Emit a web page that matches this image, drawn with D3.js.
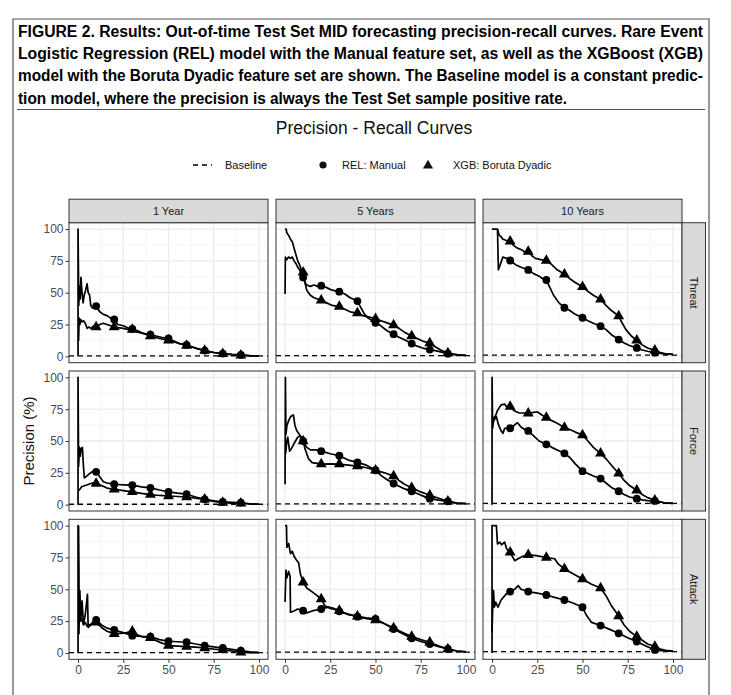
<!DOCTYPE html>
<html>
<head>
<meta charset="utf-8">
<script src="https://cdn.jsdelivr.net/npm/d3@7"></script>
<style>
  body { margin: 0; background: #fff; }
</style>
</head>
<body>
<div id="chart"></div>
<script>
// ---- data ----
const horizons = ["1 Year", "5 Years", "10 Years"];
const events = ["Threat", "Force", "Attack"];
const axisTicks = [0, 25, 50, 75, 100];
const markerRecalls = [10, 20, 30, 40, 50, 60, 70, 80, 90];
const legendLabels = ["Baseline", "REL: Manual", "XGB: Boruta Dyadic"];

// baseline precision (test set positive rate, %) per horizon
const baselineThreat = [0.3, 0.6, 1.0];
const baselineForce = [0.3, 0.6, 1.0];
const baselineAttack = [0.3, 0.6, 1.0];

const captionLines = [
  "FIGURE 2. Results: Out-of-time Test Set MID forecasting precision-recall curves. Rare Event",
  "Logistic Regression (REL) model with the Manual feature set, as well as the XGBoost (XGB)",
  "model with the Boruta Dyadic feature set are shown. The Baseline model is a constant predic-",
  "tion model, where the precision is always the Test Set sample positive rate."
];

// [recall %, precision %]
const relThreat1 = [[0,0],[0,100],[0.4,40],[0.8,55],[1.2,45],[1.6,62],[2.2,50],[2.8,42],[3.4,48],[4.2,52],[5,57],[5.6,50],[6.4,48],[7,40],[8,38],[9,39],[10,39.5],[12,35],[14,33],[16,32],[18,30],[20,29],[22,25],[25,24],[28,22],[30,21.5],[33,20],[36,18],[40,17],[43,16],[46,15],[50,14],[53,12],[56,10],[60,9],[63,7.5],[66,6],[70,4.5],[73,3.5],[76,2.8],[80,2.2],[85,1.5],[90,1.1],[95,0.5],[100,0.3]];
const xgbThreat1 = [[0.3,12],[0.6,30],[1,25],[1.5,29],[2,27],[3,28],[4,26],[5,22],[6,23],[7,22],[8,23],[9,24],[10,23],[12,25],[14,26],[16,25],[18,24],[20,23],[22,22.5],[25,22],[28,21],[30,21],[33,19],[36,18],[40,16],[45,14],[50,12.5],[55,10.5],[60,8.5],[65,6.5],[70,4.5],[75,3],[80,2],[85,1.3],[90,0.8],[95,0.4],[100,0.3]];

const relThreat5 = [[0,49],[0.2,78],[1,76],[2,78],[3,77],[4,78],[5,75],[6,73],[7,70],[8,68],[9,65],[10,62],[11,58],[12,56],[14,55],[16,56],[18,55],[20,55.5],[23,54],[26,52],[30,50.8],[33,49],[36,46],[40,43.4],[42,38],[44,33],[46,30],[50,26.3],[53,24],[56,20.5],[60,17.4],[63,15],[66,13],[70,10],[73,8],[76,6.5],[80,5.3],[83,4.5],[86,3.5],[90,2.1],[95,1.3],[100,0.8]];
const xgbThreat5 = [[0,100],[0.6,100],[1,97],[2,95],[3,92],[4,90],[5,85],[6,80],[7,75],[8,72],[9,68],[10,66],[11,58],[12,52],[14,48],[16,46],[18,45],[20,44],[23,42],[26,40],[30,39],[33,37],[36,35],[40,34],[43,32],[46,31],[50,29.5],[53,28],[56,26.5],[60,24.5],[63,22],[66,19],[70,16],[73,14],[76,12],[80,10.5],[83,7.5],[86,5],[90,2.6],[93,1.5],[96,1],[100,0.8]];

const relThreat10 = [[3,100],[3.5,68],[5,74],[6,78],[8,77],[10,75.3],[13,72],[16,70],[18,69],[20,67.9],[23,65],[26,63],[28,61],[30,60],[32,54],[34,48],[37,42],[40,38.2],[43,36],[46,33],[50,30.3],[53,28],[56,26],[60,23.7],[63,21],[66,17],[70,13.2],[73,10.5],[76,8.5],[80,6.6],[83,5],[86,4],[90,2.9],[95,2],[100,1.5]];
const xgbThreat10 = [[0,100],[3,100],[4,95],[5,94],[6,92],[8,91],[10,90.3],[12,87],[14,85],[16,84],[18,82],[20,82.4],[22,79],[24,77],[27,76],[30,75.3],[33,72],[36,68],[40,64.5],[43,61],[46,58],[50,54.7],[53,51],[56,48],[60,44.7],[63,40],[66,36],[70,31.6],[72,26],[74,21],[77,16],[80,12.6],[83,9],[86,6.5],[90,4.7],[93,3],[96,2],[100,1.5]];

const relForce1 = [[0,0],[0,100],[0.3,30],[0.8,45],[1.2,38],[1.8,44],[2.4,45],[3,30],[3.5,21],[4.5,22],[6,24],[8,26],[10,25.8],[12,22],[14,18],[16,17],[18,16.5],[20,16],[25,15.6],[30,15.3],[35,14],[40,13.2],[45,11.5],[50,10],[55,9],[60,8.2],[65,6],[70,4.2],[75,3],[80,2.1],[85,1.8],[90,1.6],[95,0.7],[100,0.3]];
const xgbForce1 = [[0.2,11],[1,12],[2,14],[4,15],[6,16],[8,17],[10,16.6],[13,15],[16,13],[20,12.1],[25,11],[30,10],[35,8.8],[40,7.9],[45,7.2],[50,6.8],[55,6.4],[60,6],[65,5],[70,4.2],[75,2.5],[80,1.6],[85,1.2],[90,1],[95,0.5],[100,0.3]];

const relForce5 = [[0,16],[0.2,100],[0.5,55],[1,62],[2,66],[3,69],[4,70],[4.6,70.5],[5.5,62],[6.5,58],[8,55],[10,50],[12,45],[14,43],[17,43],[20,42],[25,40],[30,38.4],[35,35],[40,33.2],[45,31],[50,27],[53,23],[56,20],[60,16.6],[65,13],[70,10.5],[75,7.5],[80,4.7],[85,3.5],[90,2.6],[95,1.2],[100,0.8]];
const xgbForce5 = [[0.3,40],[1,50],[1.5,53],[2.5,42],[3.5,44],[5,48],[7,53],[8.5,54],[10,50],[11,44],[13,36],[15,33],[20,31.8],[25,32],[30,31.8],[35,31],[40,30.3],[45,29],[50,27],[55,25],[60,22.4],[63,19],[66,16],[70,13.2],[75,10],[80,7.4],[85,5],[90,2.6],[95,1.2],[100,0.8]];

const relForce10 = [[0.3,65],[1,66],[2.4,69],[3.5,63],[5,58],[6,56],[7,60],[10,60],[12,62],[14,64.5],[16,61],[18,59],[20,57.9],[23,54],[26,50],[30,47.4],[33,45],[36,43],[40,40.3],[43,37],[46,32],[50,26.3],[53,24.5],[56,22.5],[60,20.5],[63,17],[66,13.5],[70,10.5],[73,8],[76,6],[80,4.7],[83,3.8],[86,3.2],[90,2.9],[95,1.5],[100,1]];
const xgbForce10 = [[0,0],[0,100],[0.3,60],[1,68],[2,70],[3,74],[5,78.4],[7,79],[8,77],[10,77],[12,74],[15,72],[18,72],[20,71.8],[23,72.5],[25,73],[28,70],[30,68.4],[33,66],[36,64],[40,60.5],[43,59],[46,57],[50,54.7],[53,50],[56,45],[60,40.3],[63,36],[66,31],[70,24.5],[73,19],[76,15],[80,11.3],[83,8],[86,5.5],[90,3.4],[95,1.5],[100,1]];

const relAttack1 = [[0,0],[0,100],[0.5,15],[1,49],[1.5,25],[2.2,41],[3,23],[4,30],[5.2,46],[5.6,20],[7,22],[8.5,25],[10,25.9],[13,22],[16,19.5],[20,18],[25,16],[30,13.6],[35,13],[40,12.8],[45,10.5],[50,9.2],[55,8.8],[60,8.4],[65,7],[70,5.8],[75,4.8],[80,3.9],[85,2.8],[90,1.8],[95,0.8],[100,0.3]];
const xgbAttack1 = [[0.3,100],[0.6,30],[1,25],[2,27],[3,22],[4,24],[5,21],[6,22],[8,23],[10,24],[13,20],[16,17],[20,15],[25,15.5],[30,17],[33,14],[36,12.5],[40,11.8],[45,8.5],[50,5.8],[55,5.4],[60,5],[65,4.5],[70,3.9],[75,3],[80,2.4],[85,1.5],[90,0.5],[95,0.3],[100,0.3]];

const relAttack5 = [[0,40],[0.5,65],[1,59],[2,64],[2.8,60],[3,32],[5,33],[7,34.5],[10,33.2],[12,31.5],[15,33],[20,34.5],[24,36],[27,35],[30,32.7],[35,30.5],[40,28.5],[45,27.5],[50,26.7],[55,23],[60,18.8],[65,15],[70,11.5],[75,9],[80,7],[85,5],[90,3.1],[95,1.5],[100,0.8]];
const xgbAttack5 = [[0,100],[0.8,100],[1,83],[2,86],[3,78],[4,80],[5,76],[6.5,72.5],[7.5,71],[8.5,62],[10,55.5],[12,51],[15,48],[17,45.8],[20,42.4],[22,37],[25,35],[28,34],[30,33.2],[35,30],[40,28.8],[45,27],[50,25.9],[55,23],[60,19.6],[65,16],[70,12.8],[75,10.5],[80,8.4],[85,5.5],[90,3.1],[95,1.5],[100,0.8]];

const relAttack10 = [[0,16],[0.4,38],[0.8,49],[1.3,36],[2,40],[3.3,36],[5,41.6],[8,46.6],[10,48.2],[12.5,50],[14.4,52.9],[16,50],[20,48.2],[25,47],[30,45.5],[35,43.5],[40,41.6],[45,39],[50,35.9],[52,30],[55,24],[60,21.5],[65,18.5],[70,15.4],[75,12],[80,8.9],[85,5.5],[90,2.4],[95,1.5],[100,1.5]];
const xgbAttack10 = [[0,0],[0,100],[2.4,100],[3,85.6],[4.3,87],[5.3,85],[7,87],[8,82],[10,79],[12.5,72.5],[14.4,74],[17,76],[20,77],[24.5,76.4],[30,75],[34.6,74],[36.5,70],[40,66],[45,62],[50,58.1],[55,54],[60,51],[63,45],[66,37],[70,29],[73,22],[76,17],[80,12.8],[83,10],[86,7],[90,5],[93,3],[96,2],[100,1.5]];

// rows = events, columns = horizons
const relCurves = [[relThreat1, relThreat5, relThreat10], [relForce1, relForce5, relForce10], [relAttack1, relAttack5, relAttack10]];
const xgbCurves = [[xgbThreat1, xgbThreat5, xgbThreat10], [xgbForce1, xgbForce5, xgbForce10], [xgbAttack1, xgbAttack5, xgbAttack10]];
const baselines = [baselineThreat, baselineForce, baselineAttack];

// ---- layout ----
const W = 731, H = 695;
const panelW = 199, panelH = 140;
const left0 = 69, top0 = 222.7;
const colStep = 207, rowStep = 148.3;
const stripH = 23.5;

const svg = d3.select("#chart").append("svg")
    .attr("width", W)
    .attr("height", H)
    .style("font-family", "'Liberation Sans', Arial, Helvetica, sans-serif");

// figure frame and caption
svg.append("path")
    .attr("d", `M13,${H} V19 H709 V${H}`)
    .attr("fill", "none").attr("stroke", "#555").attr("stroke-width", 1.2);
svg.append("line")
    .attr("x1", 17).attr("x2", 705).attr("y1", 109.5).attr("y2", 109.5)
    .attr("stroke", "#555").attr("stroke-width", 1.2);

const captionEnds = [703, 703, 703, 567];
captionLines.forEach((t, i) => {
  svg.append("text")
      .attr("x", 18).attr("y", 37 + i * 22.2)
      .attr("font-family", "'Liberation Sans Narrow', 'Liberation Sans', Arial, sans-serif")
      .attr("font-weight", "bold").attr("font-size", 16)
      .attr("textLength", captionEnds[i] - 18)
      .attr("lengthAdjust", "spacingAndGlyphs")
      .attr("fill", "#000")
      .text(t);
});

// plot title
svg.append("text")
    .attr("x", 374).attr("y", 134)
    .attr("text-anchor", "middle")
    .attr("font-size", 17.5).attr("fill", "#111")
    .text("Precision - Recall Curves");

// legend
const legY = 165;
const legend = svg.append("g").attr("font-size", 11).attr("fill", "#111");
legend.append("line")
    .attr("x1", 193).attr("x2", 212).attr("y1", legY).attr("y2", legY)
    .attr("stroke", "#000").attr("stroke-width", 1.3).attr("stroke-dasharray", "5,4");
legend.append("text").attr("x", 225).attr("y", legY + 4).text(legendLabels[0]);
legend.append("path")
    .attr("transform", `translate(323,${legY})`)
    .attr("d", d3.symbol(d3.symbolCircle, 40)());
legend.append("text").attr("x", 342).attr("y", legY + 4).text(legendLabels[1]);
legend.append("path")
    .attr("transform", `translate(428,${legY + 0.5})`)
    .attr("d", d3.symbol(d3.symbolTriangle, 44)());
legend.append("text").attr("x", 453).attr("y", legY + 4).text(legendLabels[2]);

// y-axis title
svg.append("text")
    .attr("transform", `translate(34,${top0 + (2 * rowStep + panelH) / 2}) rotate(-90)`)
    .attr("text-anchor", "middle")
    .attr("font-size", 15).attr("fill", "#111")
    .text("Precision (%)");

// scales shared by all panels (ggplot-like 5% expansion)
const x = d3.scaleLinear().domain([-5, 105]).range([0, panelW]);
const y = d3.scaleLinear().domain([-5, 105]).range([panelH, 0]);
const minorTicks = [12.5, 37.5, 62.5, 87.5];

const line = d3.line().x(d => x(d[0])).y(d => y(d[1]));
const defs = svg.append("defs");
defs.append("clipPath").attr("id", "panel-clip")
  .append("rect").attr("width", panelW).attr("height", panelH);

events.forEach((ev, r) => {
  horizons.forEach((hz, c) => {
    const px = left0 + c * colStep, py = top0 + r * rowStep;
    const g = svg.append("g").attr("transform", `translate(${px},${py})`);

    // grid
    g.append("g").selectAll("line").data(minorTicks).join("line")
        .attr("x1", d => x(d)).attr("x2", d => x(d)).attr("y1", 0).attr("y2", panelH)
        .attr("stroke", "#F0F0F0").attr("stroke-width", 0.7);
    g.append("g").selectAll("line").data(minorTicks).join("line")
        .attr("y1", d => y(d)).attr("y2", d => y(d)).attr("x1", 0).attr("x2", panelW)
        .attr("stroke", "#F0F0F0").attr("stroke-width", 0.7);
    g.append("g").selectAll("line").data(axisTicks).join("line")
        .attr("x1", d => x(d)).attr("x2", d => x(d)).attr("y1", 0).attr("y2", panelH)
        .attr("stroke", "#EBEBEB").attr("stroke-width", 1.3);
    g.append("g").selectAll("line").data(axisTicks).join("line")
        .attr("y1", d => y(d)).attr("y2", d => y(d)).attr("x1", 0).attr("x2", panelW)
        .attr("stroke", "#EBEBEB").attr("stroke-width", 1.3);

    const plot = g.append("g").attr("clip-path", "url(#panel-clip)");

    // baseline
    plot.append("line")
        .attr("x1", 0).attr("x2", panelW)
        .attr("y1", y(baselines[r][c])).attr("y2", y(baselines[r][c]))
        .attr("stroke", "#000").attr("stroke-width", 1.3).attr("stroke-dasharray", "5,4");

    [relCurves[r][c], xgbCurves[r][c]].forEach((pts, s) => {
      plot.append("path")
          .datum(pts)
          .attr("d", line)
          .attr("fill", "none").attr("stroke", "#000").attr("stroke-width", 1.7)
          .attr("stroke-linejoin", "round");
      plot.selectAll(null)
          .data(pts.filter(d => markerRecalls.includes(d[0])))
          .join("path")
          .attr("transform", d => `translate(${x(d[0])},${y(d[1])})`)
          .attr("d", s === 0 ? d3.symbol(d3.symbolCircle, 48)() : d3.symbol(d3.symbolTriangle, 52)());
    });

    // panel border
    g.append("rect")
        .attr("width", panelW).attr("height", panelH)
        .attr("fill", "none").attr("stroke", "#333").attr("stroke-width", 1);

    // y axis on first column
    if (c === 0) {
      const ya = g.append("g").call(d3.axisLeft(y).tickValues(axisTicks).tickSize(3.5).tickPadding(2));
      ya.select(".domain").remove();
      ya.selectAll(".tick line").attr("stroke", "#333");
      ya.selectAll(".tick text").attr("fill", "#4D4D4D").attr("font-size", 12)
          .attr("font-family", "'Liberation Sans', Arial, sans-serif");
    }
    // x axis on last row
    if (r === events.length - 1) {
      const xa = g.append("g").attr("transform", `translate(0,${panelH})`)
          .call(d3.axisBottom(x).tickValues(axisTicks).tickSize(3.5).tickPadding(2.5));
      xa.select(".domain").remove();
      xa.selectAll(".tick line").attr("stroke", "#333");
      xa.selectAll(".tick text").attr("fill", "#4D4D4D").attr("font-size", 12)
          .attr("font-family", "'Liberation Sans', Arial, sans-serif");
    }

    // top strips
    if (r === 0) {
      g.append("rect")
          .attr("y", -stripH).attr("width", panelW).attr("height", stripH)
          .attr("fill", "#D9D9D9").attr("stroke", "#333").attr("stroke-width", 1);
      g.append("text")
          .attr("x", panelW / 2).attr("y", -stripH / 2 + 4)
          .attr("text-anchor", "middle").attr("font-size", 11).attr("fill", "#1A1A1A")
          .text(hz);
    }
    // right strips
    if (c === horizons.length - 1) {
      g.append("rect")
          .attr("x", panelW).attr("width", stripH).attr("height", panelH)
          .attr("fill", "#D9D9D9").attr("stroke", "#333").attr("stroke-width", 1);
      g.append("text")
          .attr("transform", `translate(${panelW + stripH / 2 - 4},${panelH / 2}) rotate(90)`)
          .attr("text-anchor", "middle").attr("font-size", 11).attr("fill", "#1A1A1A")
          .text(ev);
    }
  });
});
</script>
</body>
</html>
